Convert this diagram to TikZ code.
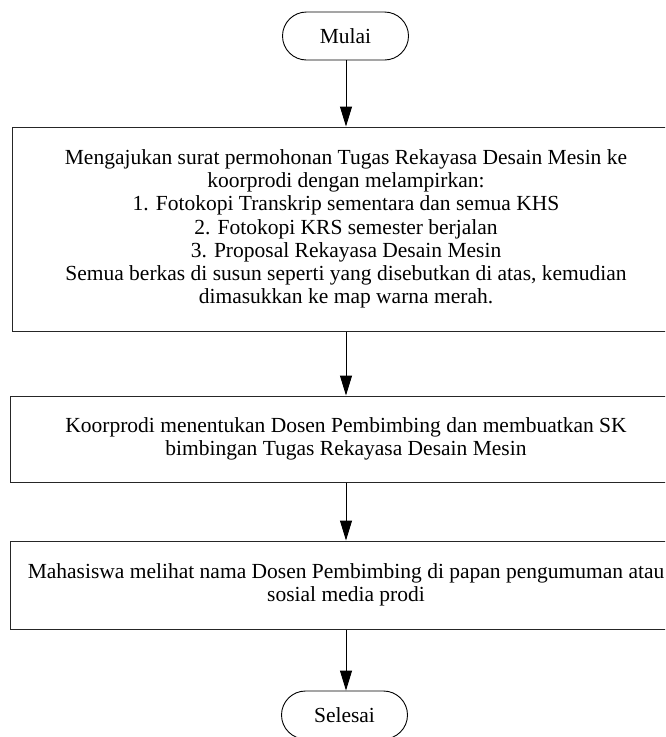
\documentclass[tikz,border=0pt]{standalone}
\usepackage{fontspec}
\setmainfont{Liberation Serif}
\usetikzlibrary{arrows.meta}
\begin{document}
\begin{tikzpicture}[x=1pt,y=-1pt,
  txt/.style={font=\fontsize{21.5}{23.2}\selectfont, align=center, inner sep=0pt},
  term/.style={draw=black, line width=0.9pt, rounded corners=24pt, minimum width=126pt, minimum height=48pt, txt},
  procbox/.style={draw=black!85, line width=1pt, txt},
  flow/.style={draw=black, line width=1pt, -{Triangle[length=20pt,width=12pt]}}]
\useasboundingbox (0,0) rectangle (665,737);
\clip (0,0) rectangle (665,737);
\node[term] (mulai) at (345.5,36) {Mulai};
\node[procbox, minimum width=667pt, minimum height=204pt] (b1) at (346,229)
  {Mengajukan surat permohonan Tugas Rekayasa Desain Mesin ke\\
   koorprodi dengan melampirkan:\\
   1. Fotokopi Transkrip sementara dan semua KHS\\
   2. Fotokopi KRS semester berjalan\\
   3. Proposal Rekayasa Desain Mesin\\
   Semua berkas di susun seperti yang disebutkan di atas, kemudian\\
   dimasukkan ke map warna merah.};
\node[procbox, minimum width=672pt, minimum height=86pt] (b2) at (346,439)
  {Koorprodi menentukan Dosen Pembimbing dan membuatkan SK\\
   bimbingan Tugas Rekayasa Desain Mesin};
\node[procbox, minimum width=672pt, minimum height=88pt] (b3) at (346,585)
  {Mahasiswa melihat nama Dosen Pembimbing di papan pengumuman atau\\
   sosial media prodi};
\node[term] (selesai) at (344.5,715) {Selesai};
\draw[flow] (mulai.south -| b1.north) -- (b1.north);
\draw[flow] (b1.south) -- (b2.north);
\draw[flow] (b2.south) -- (b3.north);
\draw[flow] (b3.south) -- (b3.south |- selesai.north);
\end{tikzpicture}
\end{document}
